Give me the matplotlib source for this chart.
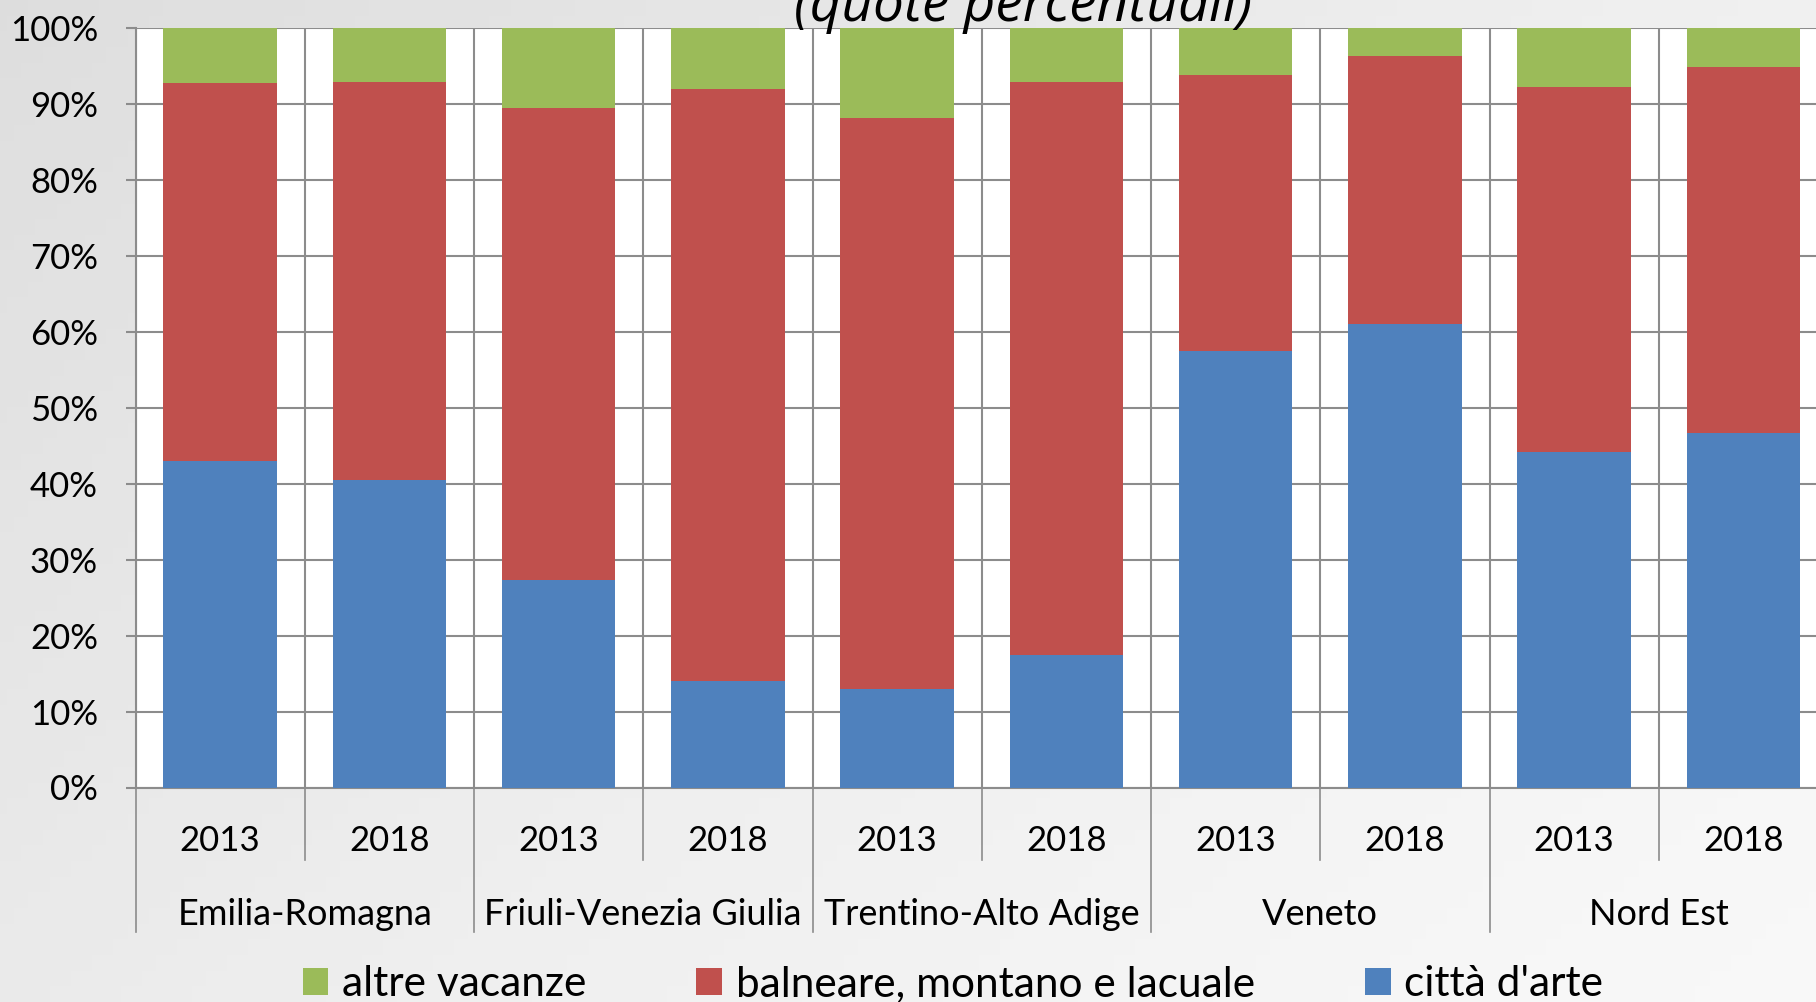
"""Quote percentuali della spesa turistica per tipo di vacanza, Nord Est."""
import numpy as np
import matplotlib.pyplot as plt
from matplotlib.transforms import blended_transform_factory

regions = ["Emilia-Romagna", "Friuli-Venezia Giulia", "Trentino-Alto Adige",
           "Veneto", "Nord Est"]
years = ["2013", "2018"]

# shares in percent, one value per bar (region x year)
citta_arte = [43.0, 40.5, 27.3, 14.0, 13.0, 17.5, 57.5, 61.0, 44.2, 46.6]
balneare = [49.7, 52.3, 62.2, 77.9, 75.1, 75.3, 36.3, 35.3, 48.0, 48.2]
altre = [7.3, 7.2, 10.5, 8.1, 11.9, 7.2, 6.2, 3.7, 7.8, 5.2]

BLUE = "#4f81bd"
RED = "#c0504d"
GREEN = "#9bbb59"
GRID = "#8c8c8c"

plt.rcParams["font.family"] = ["Lato", "DejaVu Sans"]

fig = plt.figure(figsize=(18.16, 10.02), dpi=100, facecolor="#ebebeb")

# soft grey backdrop, darker on the left like the photo behind the chart
bg = fig.add_axes([0, 0, 1, 1], zorder=-5)
grad = np.linspace(0, 1, 256)[None, :] * 0.6 + np.linspace(0, 1, 64)[:, None] * 0.4
bg.imshow(grad, cmap="Greys_r", vmin=-4.5, vmax=1.3, aspect="auto",
          extent=[0, 1, 0, 1])
bg.axis("off")

ax = fig.add_axes([135.5 / 1816, 1 - 787.5 / 1002,
                   (1828 - 135.5) / 1816, (787.5 - 27.8) / 1002])
ax.set_facecolor("white")

x = np.arange(len(citta_arte))
w = 0.67
b1 = ax.bar(x, citta_arte, w, color=BLUE, label="città d'arte", zorder=3)
b2 = ax.bar(x, balneare, w, bottom=citta_arte, color=RED,
            label="balneare, montano e lacuale", zorder=3)
bottom2 = np.array(citta_arte) + np.array(balneare)
b3 = ax.bar(x, altre, w, bottom=bottom2, color=GREEN,
            label="altre vacanze", zorder=3)

ax.set_xlim(-0.5, len(x) - 0.5)
ax.set_ylim(0, 100)
ax.set_yticks(np.arange(0, 101, 10))
ax.set_yticklabels([f"{v}%" for v in range(0, 101, 10)], fontsize=25)
ax.tick_params(axis="y", length=7, color=GRID, width=1.5, pad=20)
ax.grid(axis="y", color=GRID, lw=1.5, zorder=1)

# vertical gridlines at category boundaries
ax.set_xticks(np.arange(-0.5, len(x), 1), minor=True)
ax.grid(axis="x", which="minor", color=GRID, lw=1.5, zorder=1)
ax.set_xticks(x)
ax.set_xticklabels(years * len(regions), fontsize=25)
ax.tick_params(axis="x", which="both", length=0, pad=27)

for s in ["top", "right"]:
    ax.spines[s].set_visible(False)
ax.spines["left"].set_color(GRID)
ax.spines["left"].set_linewidth(1.5)
ax.spines["bottom"].set_color(GRID)
ax.spines["bottom"].set_linewidth(1.5)

# two-level category axis
tr = blended_transform_factory(ax.transData, ax.transAxes)
for i in range(len(x) + 1):
    xb = i - 0.5
    y_end = -0.19 if i % 2 == 0 else -0.095
    ax.plot([xb, xb], [0, y_end], transform=tr, color=GRID, lw=1.2,
            clip_on=False)
for j, reg in enumerate(regions):
    ax.text(2 * j + 0.5, -0.167, reg, transform=tr, ha="center",
            va="center", fontsize=26)

fig.text(1023 / 1816, 1 - 21 / 1002, "(quote percentuali)", ha="center",
         va="baseline", fontsize=39.5, style="italic", family="Open Sans")

fig.legend(handles=[b3, b2, b1], loc="center", ncol=3,
           bbox_to_anchor=(953 / 1816, 1 - 984 / 1002), frameon=False,
           fontsize=30.5, handlelength=0.6, handleheight=0.6,
           handletextpad=0.33, columnspacing=2.6)

fig.savefig("out.png", dpi=100)
